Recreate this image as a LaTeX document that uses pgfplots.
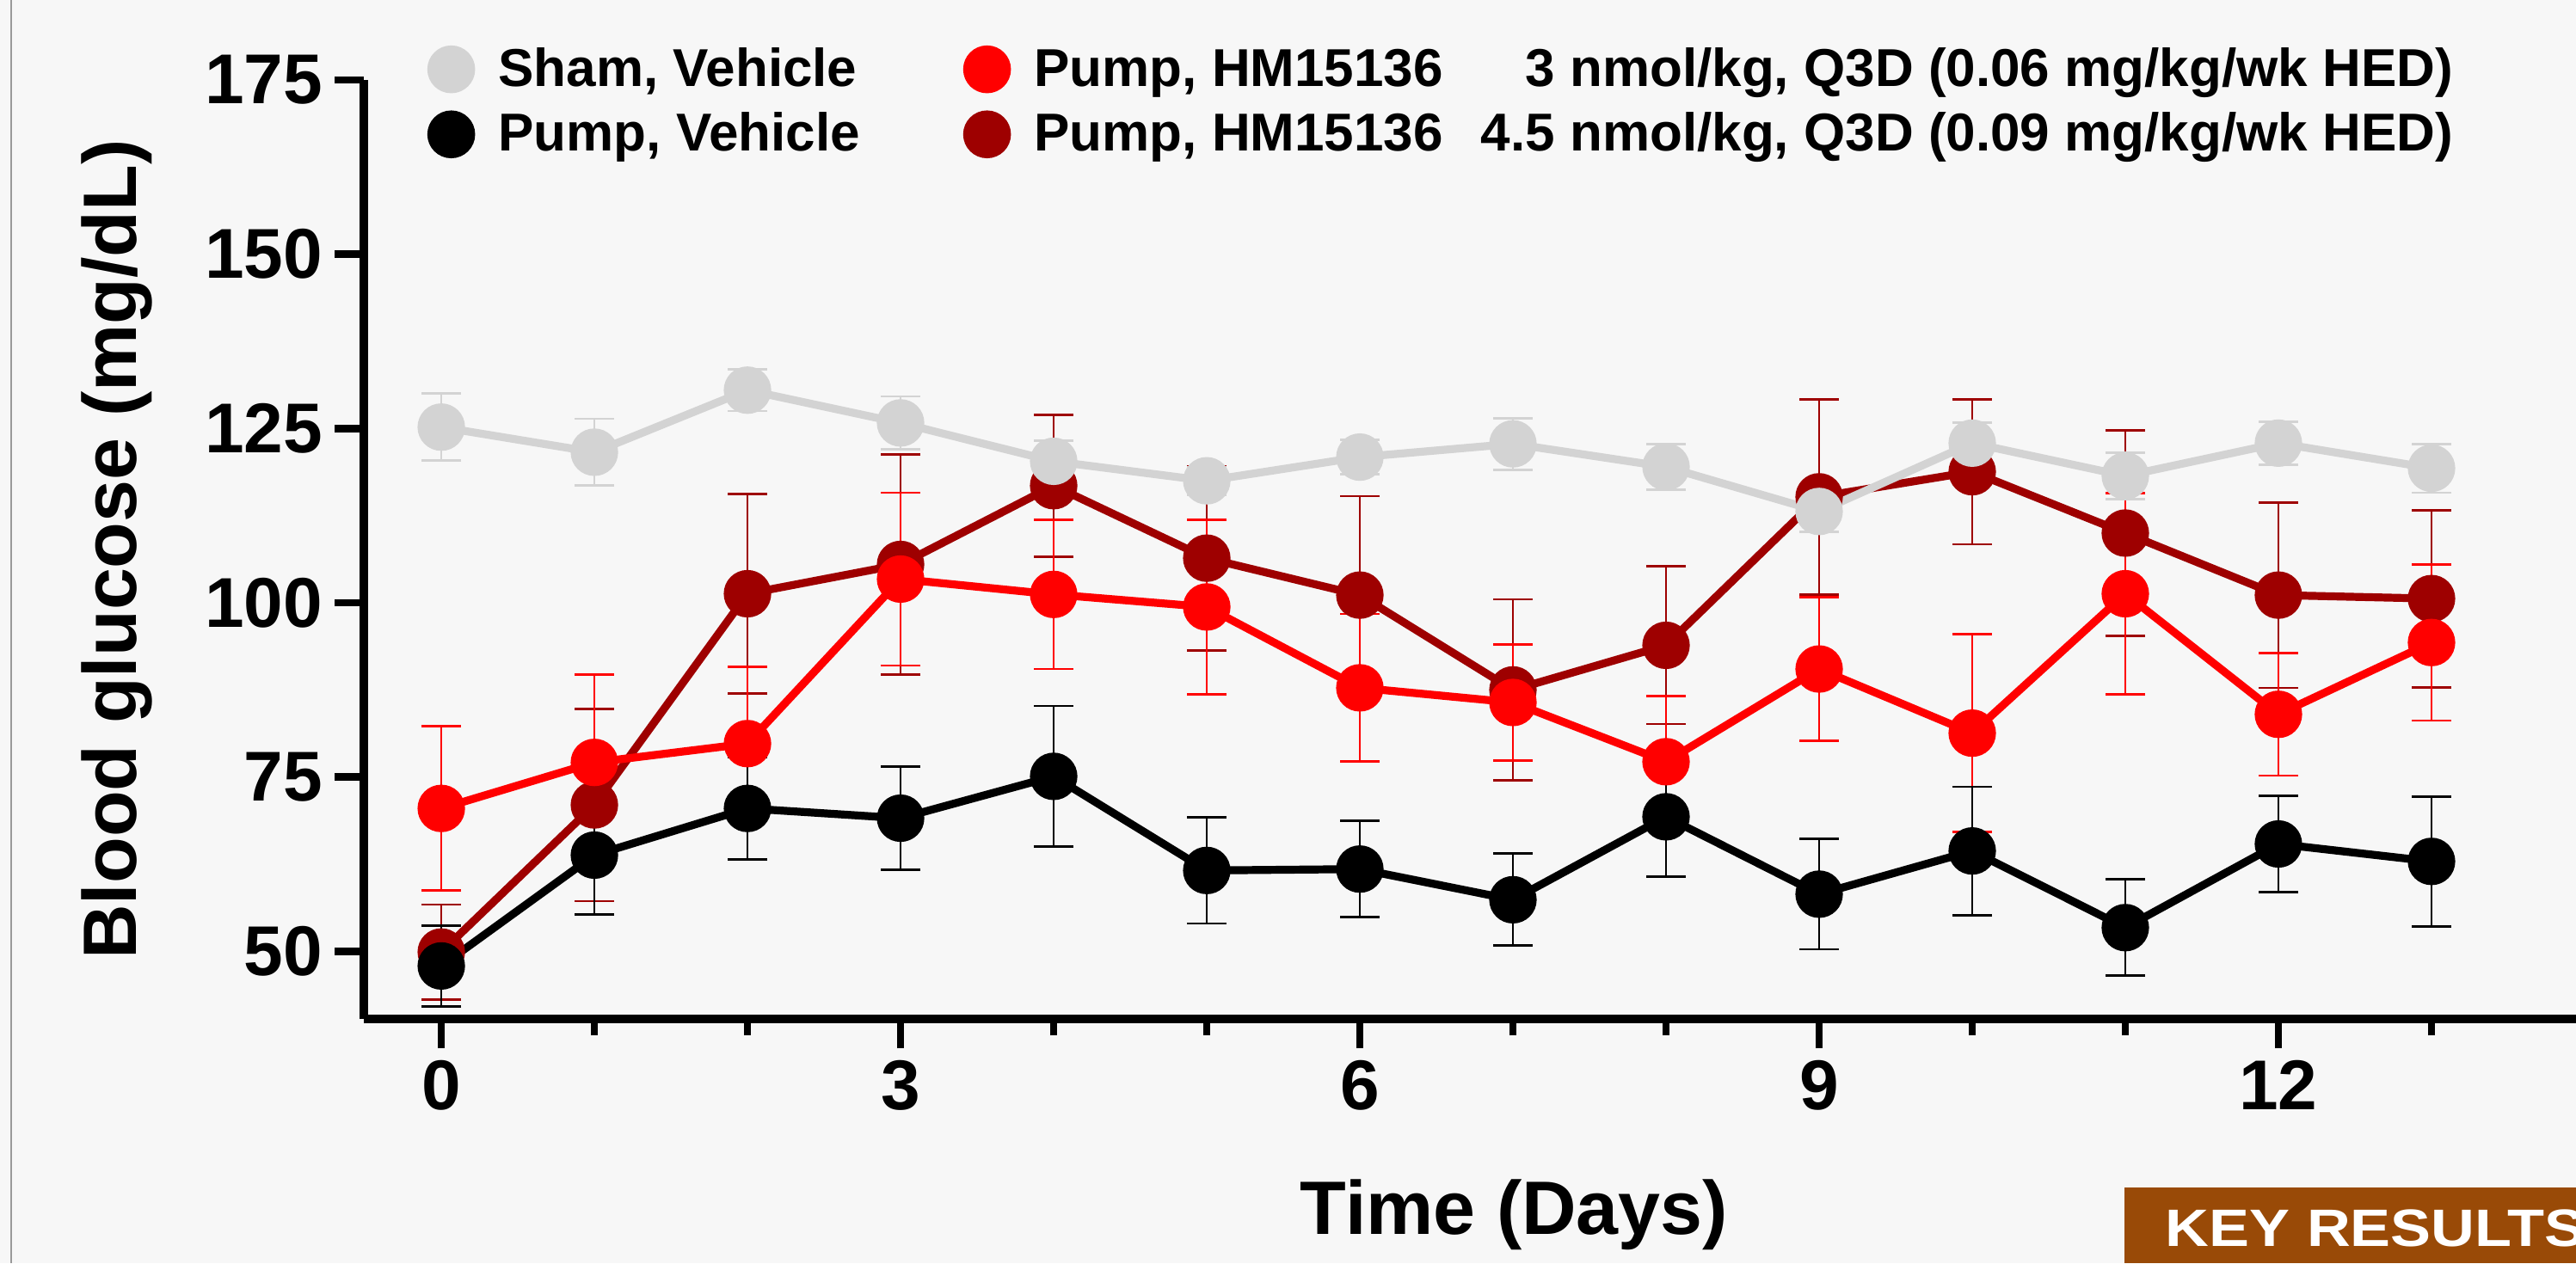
\documentclass[border=0pt]{standalone}
\usepackage{fontspec}
\setmainfont{Liberation Sans}
\newfontfamily\keyfont[FakeStretch=1.15]{Liberation Sans}
\usepackage{pgfplots}
\pgfplotsset{compat=1.18}
\usepackage{pgfplotstable}
\definecolor{bg}{HTML}{F7F7F7}
\definecolor{sham}{HTML}{D3D3D3}
\definecolor{hmred}{HTML}{FF0000}
\definecolor{hmdark}{HTML}{9E0000}
\definecolor{keybrown}{HTML}{994A07}

\pgfplotstableread{
x y e
0 125.2 4.8
1 121.6 4.8
2 130.5 3.0
3 125.8 3.8
4 120.3 3.0
5 117.5 2.0
6 120.9 2.5
7 122.8 3.7
8 119.5 3.3
9 113.1 2.9
10 122.9 2.9
11 118.2 3.3
12 122.9 3.1
13 119.3 3.5
}\shamdata

\pgfplotstableread{
x y e
0 47.9 5.8
1 63.8 8.5
2 70.5 7.3
3 69.1 7.4
4 75.1 10.1
5 61.6 7.6
6 61.8 6.9
7 57.4 6.6
8 69.3 8.6
9 58.2 7.9
10 64.4 9.2
11 53.4 6.9
12 65.4 6.9
13 62.9 9.3
}\blackdata

\pgfplotstableread{
x y e
0 70.5 11.8
1 77.1 12.6
2 79.8 11.0
3 103.4 12.4
4 101.2 10.7
5 99.4 12.5
6 87.8 10.6
7 85.7 8.3
8 77.2 9.4
9 90.5 10.3
10 81.3 14.2
11 101.3 14.4
12 84.0 8.8
13 94.3 11.2
}\reddata

\pgfplotstableread{
x y e
0 49.9 6.8
1 71.0 13.8
2 101.3 14.3
3 105.5 15.8
4 116.8 10.2
5 106.4 13.2
6 101.1 14.2
7 87.5 13.0
8 93.9 11.3
9 115.2 14.0
10 118.8 10.4
11 110.0 14.7
12 101.1 13.3
13 100.6 12.7
}\darkdata

\pgfplotsset{
  series/.style={color=#1, line width=2.3pt, mark=*, mark size=5.75pt,
    mark options={solid, fill=#1, draw=none},
    error bars/.cd, y dir=both, y explicit,
    error bar style={line width=0.7pt, color=#1},
    error mark options={rotate=90, mark size=5.75pt, line width=0.7pt, color=#1}},
}

\begin{document}
\begin{tikzpicture}
\useasboundingbox (0,0) rectangle (748.75pt,367.25pt);
\clip (0,0) rectangle (748.75pt,367.25pt);
\fill[bg] (0,0) rectangle (748.75pt,367.25pt);
\draw[color=black!40, line width=0.6pt] (3.3pt,0) -- (3.3pt,367.25pt);
\begin{axis}[
  at={(105.75pt,71pt)}, anchor=south west,
  scale only axis, width=643pt, height=273pt,
  xmin=-0.506, xmax=13.944, ymin=40.3, ymax=175,
  axis lines=left,
  axis line style={line width=2.5pt, -},
  xtick={0,3,6,9,12}, minor xtick={1,2,4,5,7,8,10,11,13},
  ytick={50,75,100,125,150,175},
  tick align=outside,
  major tick length=8.5pt, minor tick length=4.75pt,
  tick style={line width=2.2pt, black},
  tick label style={font=\fontsize{20.5}{24}\selectfont\bfseries},
  /pgf/number format/assume math mode=true,
  xlabel={Time (Days)}, ylabel={Blood glucose (mg/dL)},
  label style={font=\fontsize{22}{26}\selectfont\bfseries},
  xlabel style={at={(axis description cs:0.52,-0.2298)}, anchor=base},
  ylabel style={at={(axis description cs:-0.103,0.5)}, anchor=base},
  legend columns=2,
  legend style={at={(0.0284,1.0375)}, anchor=north west, draw=none, fill=none,
    inner sep=0pt, font=\fontsize{15.5}{18}\selectfont\bfseries,
    column sep=0pt, row sep=5pt,
    /tikz/every odd column/.append style={column sep=6.75pt},
    /tikz/every even column/.append style={column sep=30pt},
    cells={anchor=west}, nodes={inner sep=0pt}},
  legend cell align=left,
  legend image code/.code={\fill[#1] (0pt,0pt) circle (6.75pt);},
]
\addlegendimage{color=sham, fill=sham}
\addlegendentry{Sham, Vehicle}
\addlegendimage{color=hmred, fill=hmred}
\addlegendentry{Pump, HM15136\hspace{11pt}\phantom{4.}3 nmol/kg, Q3D (0.06 mg/kg/wk HED)}
\addlegendimage{color=black, fill=black}
\addlegendentry{Pump, Vehicle}
\addlegendimage{color=hmdark, fill=hmdark}
\addlegendentry{Pump, HM15136\hspace{11pt}4.5 nmol/kg, Q3D (0.09 mg/kg/wk HED)}

\addplot[forget plot, series=hmdark] table[x=x, y=y, y error=e] {\darkdata};
\addplot[forget plot, series=hmred] table[x=x, y=y, y error=e] {\reddata};
\addplot[forget plot, series=black] table[x=x, y=y, y error=e] {\blackdata};
\addplot[forget plot, series=sham] table[x=x, y=y, y error=e] {\shamdata};
\end{axis}
\fill[keybrown] (617.5pt,0) rectangle (760pt,22pt);
\node[anchor=base west, inner sep=0pt, text=white, font=\keyfont\bfseries\fontsize{15.3}{18}\selectfont] at (629.25pt,5pt) {KEY RESULTS};
\end{tikzpicture}
\end{document}
